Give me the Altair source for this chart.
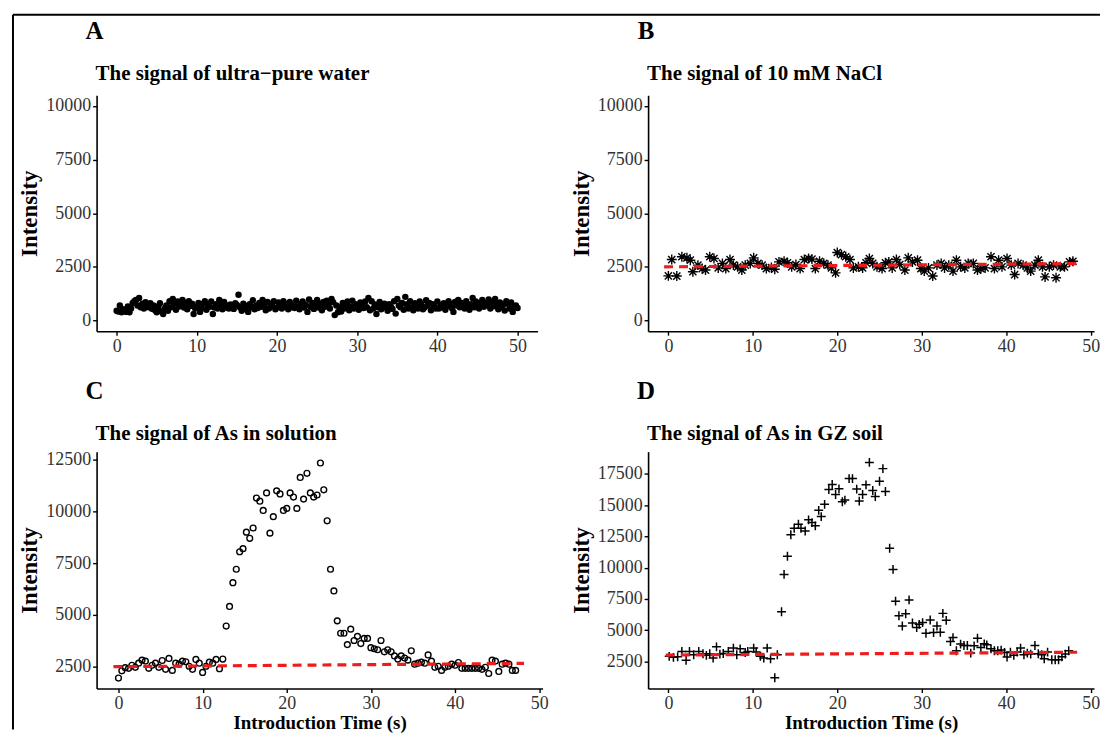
import altair as alt
import pandas as pd

FONT = "Liberation Serif"
RED = "#EE1C1C"

# ---------------- Panel A : ultra-pure water ----------------
A_INTERVAL = 0.2
A_INTENSITY = [
    450, 420, 700, 380, 520, 460, 400, 650, 380, 560,
    820, 900, 950, 700, 1050, 620, 780, 560, 850, 700,
    620, 800, 550, 700, 480, 380, 650, 800, 420, 300,
    560, 700, 450, 900, 620, 1000, 780, 500, 880, 650,
    720, 950, 600, 820, 520, 900, 680, 780, 300, 560,
    640, 820, 400, 560, 780, 900, 500, 720, 640, 880,
    300, 600, 760, 560, 950, 680, 520, 860, 600, 700,
    560, 750, 640, 540, 800, 720, 1200, 600, 450, 780,
    560, 680, 400, 760, 620, 940, 520, 700, 580, 820,
    640, 960, 720, 480, 860, 560, 780, 680, 900, 520,
    600, 840, 700, 560, 900, 640, 760, 520, 860, 620,
    700, 580, 920, 640, 520, 780, 880, 600, 720, 400,
    980, 640, 820, 540, 700, 960, 600, 780, 480, 860,
    640, 920, 720, 560, 1000, 850, 250, 700, 380, 600,
    420, 820, 560, 700, 880, 480, 640, 920, 560, 760,
    620, 500, 840, 700, 580, 880, 620, 1050, 480, 900,
    560, 740, 300, 620, 860, 520, 700, 780, 600, 450,
    760, 640, 540, 900, 320, 1000, 700, 620, 820, 500,
    1100, 760, 560, 900, 620, 480, 800, 680, 560, 880,
    740, 520, 600, 940, 700, 820, 480, 760, 640, 560,
    880, 560, 720, 620, 800, 500, 680, 900, 760, 580,
    400, 860, 700, 960, 620, 820, 740, 560, 900, 680,
    500, 760, 1050, 620, 880, 700, 560, 820, 960, 640,
    800, 720, 980, 560, 860, 660, 1000, 760, 520, 840,
    600, 720, 460, 900, 780, 560, 840, 400, 640, 700,
    580,
]
A_TIME = [round(i * A_INTERVAL, 2) for i in range(len(A_INTENSITY))]

# ---------------- Panel B : 10 mM NaCl ----------------
B_TIME = [
    0.0, 0.4, 1.0, 1.6, 2.2, 2.6, 2.9, 3.5, 4.0, 4.4, 4.9, 5.4, 5.9, 6.4, 6.8,
    7.3, 7.7, 8.2, 8.7, 9.1, 9.7, 10.1, 10.6, 11.1, 11.6, 12.2, 12.6, 13.1,
    13.7, 14.1, 14.6, 15.1, 15.6, 16.1, 16.6, 17.0, 17.4, 17.9, 18.4, 18.9,
    19.3, 19.8, 20.0, 20.5, 21.0, 21.5, 21.9, 22.5, 23.0, 23.4, 23.8, 24.2,
    24.7, 25.3, 25.7, 26.1, 26.5, 27.0, 27.4, 28.0, 28.4, 28.9, 29.5, 29.9,
    30.3, 30.8, 31.3, 31.8, 32.3, 32.7, 33.2, 33.7, 34.1, 34.6, 35.1, 35.5,
    36.1, 36.6, 37.0, 37.5, 38.2, 38.6, 39.1, 39.5, 40.1, 40.6, 41.0, 41.4,
    42.0, 42.5, 42.9, 43.4, 43.8, 44.3, 44.6, 45.1, 45.6, 45.9, 46.4, 46.9,
    47.5, 47.9,
]
B_INTENSITY = [
    2080, 2840, 2070, 2970, 2920, 2810, 2270, 2580, 2420, 2350, 2970, 2890,
    2450, 2660, 2420, 2840, 2580, 2500, 2350, 2580, 2660, 2920, 2660, 2580,
    2420, 2470, 2390, 2730, 2760, 2690, 2500, 2610, 2420, 2840, 2890, 2860,
    2420, 2760, 2660, 2580, 2450, 2220, 3170, 3070, 2970, 2840, 2450, 2500,
    2450, 2690, 2890, 2660, 2500, 2420, 2690, 2730, 2450, 2840, 2610, 2350,
    2920, 2730, 2810, 2420, 2300, 2450, 2070, 2580, 2660, 2450, 2580, 2300,
    2810, 2500, 2450, 2660, 2660, 2350, 2420, 2450, 2970, 2420, 2810, 2500,
    2890, 2580, 2140, 2660, 2580, 2450, 2300, 2580, 2810, 2500, 2030, 2500,
    2580, 1990, 2500, 2500, 2730, 2760,
]
B_BASE_TIME = [-0.5, 48.5]
B_BASE_VALUE = [2500, 2650]

# ---------------- Panel C : As in solution ----------------
C_INTERVAL = 0.4
C_INTENSITY = [
    1930, 2280, 2430, 2400, 2550, 2450, 2650, 2800, 2750, 2400, 2550, 2650,
    2450, 2780, 2350, 2880, 2300, 2650, 2600, 2750, 2720, 2500, 2350, 2830,
    2650, 2200, 2500, 2700, 2650, 2830, 2380, 2850,
    4450, 5400, 6550, 7200, 8050, 8200, 9000, 8700, 9200, 10650, 10500, 10050,
    10900, 8950, 9750, 11000, 10850, 10050, 10150, 10900, 10700, 10150, 11650,
    10600, 11850, 10900, 10700, 10800, 12350, 11050,
    9550, 7200, 6150, 4700, 4100, 4100, 3550, 4300, 3750, 3950, 3600, 3850,
    3850, 3400, 3350, 3300, 3750, 3200, 3300, 3200, 3000, 2850, 3000, 2900,
    2800, 3250, 2600, 2650, 2700, 2650, 3050, 2750, 2450, 2500, 2300, 2450,
    2500, 2600, 2550, 2680, 2400, 2400, 2400, 2400, 2400, 2400, 2350, 2450,
    2150, 2800, 2750, 2250, 2600, 2650, 2600, 2300, 2300,
]
C_TIME = [round(i * C_INTERVAL, 2) for i in range(len(C_INTENSITY))]
C_BASE_TIME = [-0.6, 48.2]
C_BASE_VALUE = [2480, 2640]

# ---------------- Panel D : As in GZ soil ----------------
D_TIME = [
    0.1, 0.6, 1.1, 1.6, 2.1, 2.5, 3.0, 3.6, 4.1, 4.5, 4.9, 5.3, 5.7, 6.1, 6.5,
    7.1, 7.7, 8.1, 8.5, 9.1, 9.4, 10.1, 10.4, 10.9, 11.3, 11.7, 12.1, 12.6,
    12.9, 13.4, 13.7, 14.1, 14.5, 14.9, 15.4, 15.7, 16.2, 16.6, 17.0, 17.4,
    17.8, 18.1, 18.5, 19.0, 19.4, 19.8, 20.2, 20.6, 20.9, 21.4, 21.8, 22.3,
    22.6, 23.0, 23.4, 23.8, 24.2, 24.5, 25.0, 25.4, 25.7, 26.2, 26.6, 26.9,
    27.3, 27.7, 28.1, 28.5, 28.9, 29.4, 29.7, 30.1, 30.5, 31.0, 31.4, 31.8,
    32.2, 32.5, 32.9, 33.4, 33.7, 34.1, 34.6, 35.0, 35.4, 35.8, 36.2, 36.6,
    37.0, 37.4, 37.7, 38.2, 38.6, 39.0, 39.4, 39.8, 40.1, 40.5, 40.9, 41.3,
    41.7, 42.1, 42.5, 42.9, 43.4, 43.8, 44.2, 44.5, 44.9, 45.4, 45.8, 46.2,
    46.6, 47.0, 47.4,
]
D_INTENSITY = [
    2900, 2820, 2870, 3290, 2580, 3290, 3030, 3290, 3110, 2980, 3110, 2760,
    3660, 3080, 3130, 3290, 3560, 3030, 3500, 3210, 3290, 3560, 3240, 2900,
    2760, 3560, 2710, 1180, 3030,
    6470, 9460, 10910, 12630, 13160, 13480, 13160, 12930, 13830, 13610, 13350,
    14590, 14090, 15070, 16260, 16660, 15860, 16310, 15280, 15410, 17130,
    17130, 16290, 15330, 15860, 16630, 18430, 16180, 15700, 16920, 17930,
    16100,
    11550, 9860, 7320, 6150, 5330, 6310, 7420, 5570, 5200, 5460, 5600, 4750,
    5810, 4800, 5330, 4830, 6340, 5780, 4090, 4400, 3350, 3880, 3770, 3770,
    3160, 3740, 4350, 3610, 3900, 3820, 3500, 3350, 3350, 3400, 3210, 2840,
    3240, 2980, 3240, 3560, 3030, 3160, 3080, 3770, 3110, 3030, 2710, 3240,
    2630, 2630, 2630, 2870, 3080, 3350,
]
D_BASE_TIME = [-0.3, 48.4]
D_BASE_VALUE = [3000, 3230]

X_TICKS = [0, 10, 20, 30, 40, 50]
ASTERISK = "M-1,0L1,0M0,-1L0,1M-0.72,-0.72L0.72,0.72M-0.72,0.72L0.72,-0.72"
PLUS = "M-1,0L1,0M0,-1L0,1"
LABEL_SIZE = 18

AXIS_STYLE = dict(
    grid=False, domainColor="black", domainWidth=1.6, tickColor="black",
    tickWidth=1.4, tickSize=4, labelFont=FONT, labelFontSize=LABEL_SIZE,
    labelColor="#333333", labelPadding=2, titleColor="black",
    labelOverlap=False, tickCount=12,
)


def panel(time, values, point_mark, xdom, ydom, yticks, width, height,
          title, letter, letter_y, title_y, xtitle, base_t=None, base_v=None,
          frame=False):
    df = pd.DataFrame({"time": time, "intensity": values})
    x_axis_kw = dict(values=X_TICKS, format="d", **AXIS_STYLE)
    if xtitle:
        x_axis_kw.update(title=xtitle, titleFont=FONT, titleFontSize=19,
                         titleFontWeight="bold", titlePadding=1)
    else:
        x_axis_kw.update(title=None)
    x = alt.X("time:Q", scale=alt.Scale(domain=xdom, nice=False, zero=False),
              axis=alt.Axis(**x_axis_kw))
    y = alt.Y("intensity:Q", scale=alt.Scale(domain=ydom, nice=False, zero=False),
              axis=alt.Axis(values=yticks, format="d", title="Intensity",
                            titleFont=FONT, titleFontSize=23, titleFontWeight="bold",
                            titlePadding=4, **AXIS_STYLE))
    layers = [alt.Chart(df).mark_point(**point_mark).encode(x=x, y=y)]
    if base_t is not None:
        bdf = pd.DataFrame({"time": base_t, "intensity": base_v})
        layers.append(
            alt.Chart(bdf).mark_line(color=RED, strokeDash=[9, 6], strokeWidth=3.2)
            .encode(x="time:Q", y="intensity:Q")
        )
    tdf = pd.DataFrame({"label": [letter], "title": [title]})
    layers.append(
        alt.Chart(tdf).mark_text(font=FONT, fontSize=25, fontWeight="bold",
                                 align="center", baseline="middle", color="black")
        .encode(x=alt.value(-2), y=alt.value(letter_y), text="label:N")
    )
    layers.append(
        alt.Chart(tdf).mark_text(font=FONT, fontSize=21, fontWeight="bold",
                                 align="left", baseline="middle", color="black")
        .encode(x=alt.value(-1), y=alt.value(title_y), text="title:N")
    )
    if frame:
        fdf = pd.DataFrame({"k": [0]})
        layers.append(
            alt.Chart(fdf).mark_rule(color="black", strokeWidth=2)
            .encode(x=alt.value(-84), y=alt.value(-81), y2=alt.value(637))
        )
        layers.append(
            alt.Chart(fdf).mark_rule(color="black", strokeWidth=2)
            .encode(x=alt.value(-84), x2=alt.value(1008), y=alt.value(-81))
        )
    return alt.layer(*layers).properties(width=width, height=height)


pA = panel(A_TIME, A_INTENSITY,
           dict(shape="circle", filled=True, size=42, color="black", opacity=1),
           [-2.5, 52.5], [-500, 10500], [0, 2500, 5000, 7500, 10000], 443, 237,
           "The signal of ultra\u2212pure water", "A", -65, -21, None, frame=True)
pB = panel(B_TIME, B_INTENSITY,
           dict(shape=ASTERISK, filled=False, size=100, color="black",
                strokeWidth=1.4, opacity=1),
           [-2.4, 50.4], [-500, 10500], [0, 2500, 5000, 7500, 10000], 448, 237,
           "The signal of 10 mM NaCl", "B", -65, -21, None,
           B_BASE_TIME, B_BASE_VALUE)
pC = panel(C_TIME, C_INTENSITY,
           dict(shape="circle", filled=False, size=34, color="black",
                strokeWidth=1.4, opacity=1),
           [-2.6, 50.4], [1420, 12900], [2500, 5000, 7500, 10000, 12500], 448, 238,
           "The signal of As in solution", "C", -61, -18, "Introduction Time (s)",
           C_BASE_TIME, C_BASE_VALUE)
pD = panel(D_TIME, D_INTENSITY,
           dict(shape=PLUS, filled=False, size=80, color="black",
                strokeWidth=1.5, opacity=1),
           [-2.4, 50.4], [320, 19290],
           [2500, 5000, 7500, 10000, 12500, 15000, 17500], 448, 238,
           "The signal of As in GZ soil", "D", -61, -18, "Introduction Time (s)",
           D_BASE_TIME, D_BASE_VALUE)

chart = alt.concat(
    pA, pB, pC, pD, columns=2, spacing={"row": 121, "column": 106}, bounds="flush"
).properties(
    padding={"left": 3, "top": 3, "right": 3, "bottom": 3}
).configure_view(
    stroke="transparent"
).configure_axis(
    labelFont=FONT, labelFontSize=LABEL_SIZE, labelColor="#333333",
    domainColor="black", tickColor="black", labelOverlap=False
)

chart.save("out.html", embed_options={"renderer": "svg", "actions": False})
